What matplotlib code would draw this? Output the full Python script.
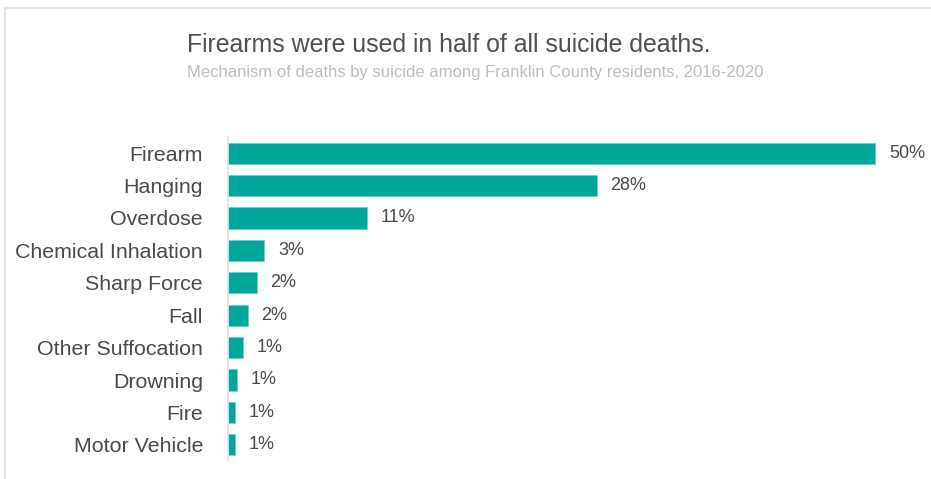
import matplotlib
matplotlib.use("Agg")
import matplotlib.pyplot as plt
from matplotlib.lines import Line2D

plt.rcParams['font.family'] = ['Liberation Sans', 'DejaVu Sans']

mechanisms = ["Firearm", "Hanging", "Overdose", "Chemical Inhalation", "Sharp Force",
              "Fall", "Other Suffocation", "Drowning", "Fire", "Motor Vehicle"]
percents = [49.95, 28.45, 10.7, 2.8, 2.2, 1.52, 1.13, 0.69, 0.56, 0.56]

TEAL = "#00a79c"
DARK = "#4a4a4a"

fig = plt.figure(figsize=(9.31, 4.79), dpi=100)
W, H = 931, 479

# panel frame (top and left edges only)
fig.add_artist(Line2D([5 / W, 1], [1 - 8 / H, 1 - 8 / H], color="#e3e3e3", lw=1.5))
fig.add_artist(Line2D([5 / W, 5 / W], [0, 1 - 8 / H], color="#e3e3e3", lw=1.5))

ax = fig.add_axes([228 / W, 1 - 461 / H, (876 - 228) / W, (461 - 137) / H])
y = list(range(len(mechanisms)))
ax.barh(y, percents, height=0.66, color=TEAL, edgecolor="#6fd0c8", linewidth=0.6)
ax.set_xlim(0, 50)
ax.set_ylim(len(mechanisms) - 0.5, -0.5)

for yi, v in zip(y, percents):
    ax.text(v + 1.05, yi, f"{v:.0f}%", va="center", ha="left",
            fontsize=13, color=DARK, clip_on=False)

ax.set_yticks(y)
ax.set_yticklabels(mechanisms, fontsize=15.4, color=DARK)
ax.tick_params(axis="y", length=0, pad=18)
ax.set_xticks([])
for side in ["top", "right", "bottom"]:
    ax.spines[side].set_visible(False)
ax.spines["left"].set_color("#e0e0e0")
ax.spines["left"].set_linewidth(1.2)

fig.text(187 / W, 1 - 45 / H, "Firearms were used in half of all suicide deaths.",
         fontsize=17.9, color="#505050", ha="left", va="center")
fig.text(187 / W, 1 - 73 / H,
         "Mechanism of deaths by suicide among Franklin County residents, 2016-2020",
         fontsize=12, color="#bdbdbd", ha="left", va="center")

plt.savefig("out.png", dpi=100, facecolor="white")
